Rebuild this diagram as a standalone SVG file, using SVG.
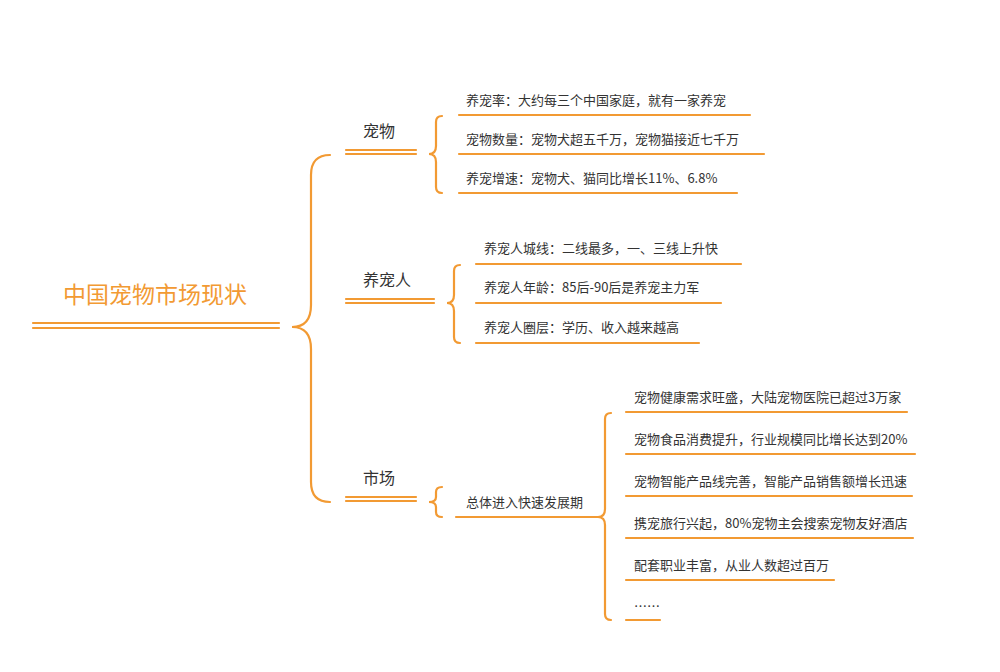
<svg xmlns="http://www.w3.org/2000/svg" width="1000" height="672" viewBox="0 0 1000 672">
<style>
.l{stroke:#f29a33;stroke-width:2.2;fill:none;stroke-linecap:round}
.t{font-family:"Noto Sans CJK SC","Liberation Sans",sans-serif;fill:#333}
.s{font-size:13px}
.m{font-size:16px}
</style>
<rect width="1000" height="672" fill="#fff"/>
<g id="connectors">
<path class="l" d="M330 155 Q311 155 311 175 V305 Q311 327 292 327 Q311 327 311 349 V482 Q311 502 330 502"/>
<path class="l" d="M442 116 Q436 116 436 122 V146 Q436 154 429 154 Q436 154 436 162 V187 Q436 193 442 193"/>
<path class="l" d="M460 265 Q454 265 454 271 V295 Q454 303 447 303 Q454 303 454 311 V337 Q454 343 460 343"/>
<path class="l" d="M442 487 Q436 487 436 492 V497 Q436 502 429 502 Q436 502 436 507 V512 Q436 517 442 517"/>
<path class="l" d="M611 413 Q605 413 605 419 V509 Q605 517 598 517 Q605 517 605 525 V614 Q605 620 611 620"/>
</g>
<g id="root"><text class="t" x="155" y="303" text-anchor="middle" font-size="23" fill="#f29a33" style="fill:#f29a33">中国宠物市场现状</text>
<path class="l" d="M33 323H279M33 328H279"/></g>
<g id="n1"><text class="t m" x="363" y="137">宠物</text><path class="l" d="M346 150H416M346 154H416"/></g>
<g id="n2"><text class="t m" x="363" y="286">养宠人</text><path class="l" d="M346 299H434M346 303H434"/></g>
<g id="n3"><text class="t m" x="363" y="484">市场</text><path class="l" d="M346 497H416M346 501H416"/></g>
<g id="a1"><text class="t s" x="466" y="105">养宠率：大约每三个中国家庭，就有一家养宠</text><path class="l" d="M459 115H750"/></g>
<g id="a2"><text class="t s" x="466" y="144">宠物数量：宠物犬超五千万，宠物猫接近七千万</text><path class="l" d="M459 154H764"/></g>
<g id="a3"><text class="t s" x="466" y="183">养宠增速：宠物犬、猫同比增长11%、6.8%</text><path class="l" d="M459 193H737"/></g>
<g id="b1"><text class="t s" x="484" y="253">养宠人城线：二线最多，一、三线上升快</text><path class="l" d="M476 264H741"/></g>
<g id="b2"><text class="t s" x="484" y="292">养宠人年龄：85后-90后是养宠主力军</text><path class="l" d="M476 303H721"/></g>
<g id="b3"><text class="t s" x="484" y="332">养宠人圈层：学历、收入越来越高</text><path class="l" d="M476 343H699"/></g>
<g id="c1"><text class="t s" x="466" y="507">总体进入快速发展期</text><path class="l" d="M456 517H600"/></g>
<g id="d1"><text class="t s" x="634" y="402">宠物健康需求旺盛，大陆宠物医院已超过3万家</text><path class="l" d="M626 412H907"/></g>
<g id="d2"><text class="t s" x="634" y="444">宠物食品消费提升，行业规模同比增长达到20%</text><path class="l" d="M626 454H915"/></g>
<g id="d3"><text class="t s" x="634" y="486">宠物智能产品线完善，智能产品销售额增长迅速</text><path class="l" d="M626 496H912"/></g>
<g id="d4"><text class="t s" x="634" y="528">携宠旅行兴起，80%宠物主会搜索宠物友好酒店</text><path class="l" d="M626 538H913"/></g>
<g id="d5"><text class="t s" x="634" y="570">配套职业丰富，从业人数超过百万</text><path class="l" d="M626 580H834"/></g>
<g id="d6"><text class="t s" x="634" y="611">……</text><path class="l" d="M626 620H660"/></g>
</svg>
